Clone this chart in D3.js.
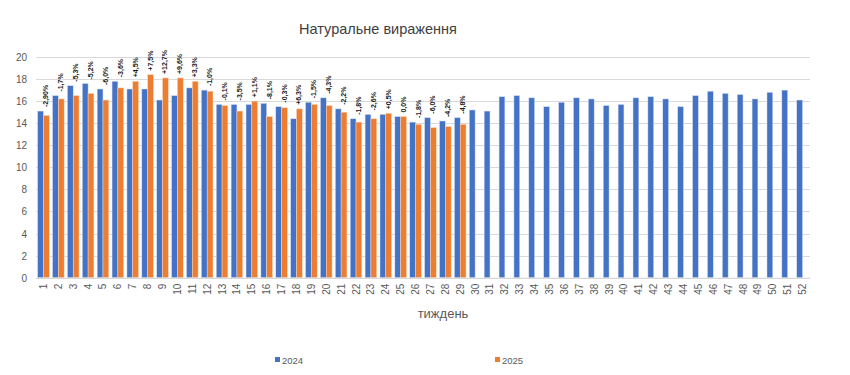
<!DOCTYPE html>
<html>
<head>
<meta charset="utf-8">
<script src="https://cdn.jsdelivr.net/npm/d3@7"></script>
<style>
  body { margin: 0; background: #fff; }
  svg { font-family: "Liberation Sans", "Open Sans", sans-serif; }
</style>
</head>
<body>
<div id="chart"></div>
<script>
// weeks 1..52
const weeks = d3.range(1, 53).map(String);
const values2024 = [15.1, 16.5, 17.4, 17.6, 17.1, 17.8, 17.1, 17.1, 16.1, 16.5,
  17.2, 17.0, 15.7, 15.7, 15.7, 15.8, 15.5, 14.4, 15.9, 16.3,
  15.3, 14.4, 14.8, 14.8, 14.6, 14.1, 14.5, 14.2, 14.5, 15.2,
  15.1, 16.4, 16.5, 16.3, 15.5, 15.9, 16.3, 16.2, 15.6, 15.7,
  16.3, 16.4, 16.2, 15.5, 16.5, 16.9, 16.7, 16.6, 16.2, 16.8, 17.0, 16.1];
const values2025 = [14.7, 16.2, 16.5, 16.7, 16.1, 17.2, 17.8, 18.4, 18.1, 18.1,
  17.8, 16.9, 15.6, 15.1, 16.0, 14.6, 15.4, 15.3, 15.7, 15.6,
  15.0, 14.1, 14.4, 14.9, 14.6, 13.9, 13.6, 13.7, 13.9];
const changeLabels = ['-2,90%', '-1,7%', '-5,3%', '-5,2%', '-6,0%', '-3,6%', '+4,5%', '+7,5%', '+12,7%', '+9,6%',
  '+3,3%', '-1,0%', '-0,1%', '-3,5%', '+1,1%', '-8,1%', '-0,3%', '+6,3%', '-1,5%', '-4,3%',
  '-2,2%', '-1,8%', '-2,6%', '+0,5%', '0,0%', '-1,8%', '-6,0%', '-4,2%', '-4,8%'];
const yTicks = d3.range(0, 21, 2);
const seriesNames = ['2024', '2025'];
const colors = ['#4472C4', '#ED7D31'];

const width = 850, height = 375;
const margin = { left: 36, right: 40, top: 57, bottom: 97 };

const svg = d3.select('#chart').append('svg')
  .attr('width', width)
  .attr('height', height);

const x = d3.scaleBand().domain(weeks).range([margin.left, width - margin.right]).paddingInner(0).paddingOuter(0);
const xInner = d3.scaleBand().domain(seriesNames).range([0, x.bandwidth()]).paddingInner(0).paddingOuter(0.28);
const y = d3.scaleLinear().domain([0, 20]).range([height - margin.bottom - 0.3, margin.top]);

// title
svg.append('text')
  .attr('x', 378).attr('y', 34)
  .attr('text-anchor', 'middle')
  .style('font-size', '14.5px')
  .style('fill', '#404040')
  .text('Натуральне вираження');

// grid
svg.append('g').selectAll('line')
  .data(yTicks)
  .join('line')
  .attr('x1', margin.left).attr('x2', width - margin.right)
  .attr('y1', d => Math.round(y(d)) + 0.5).attr('y2', d => Math.round(y(d)) + 0.5)
  .attr('stroke', '#d9d9d9').attr('stroke-width', 1);

// y axis labels
const yAxis = svg.append('g')
  .attr('transform', `translate(${margin.left - 9},0)`)
  .call(d3.axisLeft(y).tickValues(yTicks).tickSize(0).tickPadding(0));
yAxis.select('.domain').remove();
yAxis.selectAll('text').style('font-size', '10px').style('fill', '#595959').attr('dy', '0.35em');

// bars
const bars = svg.append('g');
bars.selectAll('.b2024')
  .data(values2024)
  .join('rect')
  .attr('class', 'b2024')
  .attr('x', (d, i) => x(weeks[i]) + xInner('2024'))
  .attr('width', xInner.bandwidth())
  .attr('y', d => y(d))
  .attr('height', d => y(0) - y(d))
  .attr('fill', colors[0])
  .attr('stroke', '#d5e0f3').attr('stroke-width', 0.5);

bars.selectAll('.b2025')
  .data(values2025)
  .join('rect')
  .attr('class', 'b2025')
  .attr('x', (d, i) => x(weeks[i]) + xInner('2025'))
  .attr('width', xInner.bandwidth())
  .attr('y', d => y(d))
  .attr('height', d => y(0) - y(d))
  .attr('fill', colors[1])
  .attr('stroke', '#fad8c1').attr('stroke-width', 0.5);

// change labels (rotated)
svg.append('g').selectAll('text')
  .data(changeLabels)
  .join('text')
  .attr('transform', (d, i) => {
    const cx = x(weeks[i]) + x.bandwidth() / 2 + 2.5;
    const top = y(Math.max(values2024[i], values2025[i])) - 4;
    return `translate(${cx},${top}) rotate(-90)`;
  })
  .attr('dy', '0.35em')
  .attr('text-anchor', 'start')
  .style('font-size', '7px')
  .style('font-weight', 'bold')
  .style('fill', '#1a1a1a')
  .text(d => d);

// x axis
const xAxis = svg.append('g')
  .attr('transform', `translate(0,${y(0)})`)
  .call(d3.axisBottom(x).tickSize(0).tickPadding(0));
xAxis.select('.domain').attr('stroke', '#d9d9d9');
xAxis.selectAll('text')
  .attr('transform', 'translate(0,6) rotate(-90)')
  .attr('y', 0)
  .attr('dy', '0.35em')
  .attr('text-anchor', 'end')
  .style('font-size', '10px')
  .style('fill', '#595959');

// axis title
svg.append('text')
  .attr('x', 443).attr('y', 318)
  .attr('text-anchor', 'middle')
  .style('font-size', '13px')
  .style('fill', '#595959')
  .text('тиждень');

// legend
const legendPos = [275, 495];
const legend = svg.append('g').selectAll('g')
  .data(seriesNames)
  .join('g')
  .attr('transform', (d, i) => `translate(${legendPos[i]},361)`);
legend.append('rect')
  .attr('x', 0).attr('y', -4).attr('width', 5).attr('height', 5)
  .attr('fill', (d, i) => colors[i]);
legend.append('text')
  .attr('x', 7).attr('y', 0)
  .attr('dy', '0.3em')
  .style('font-size', '9.5px')
  .style('fill', '#595959')
  .text(d => d);
</script>
</body>
</html>
